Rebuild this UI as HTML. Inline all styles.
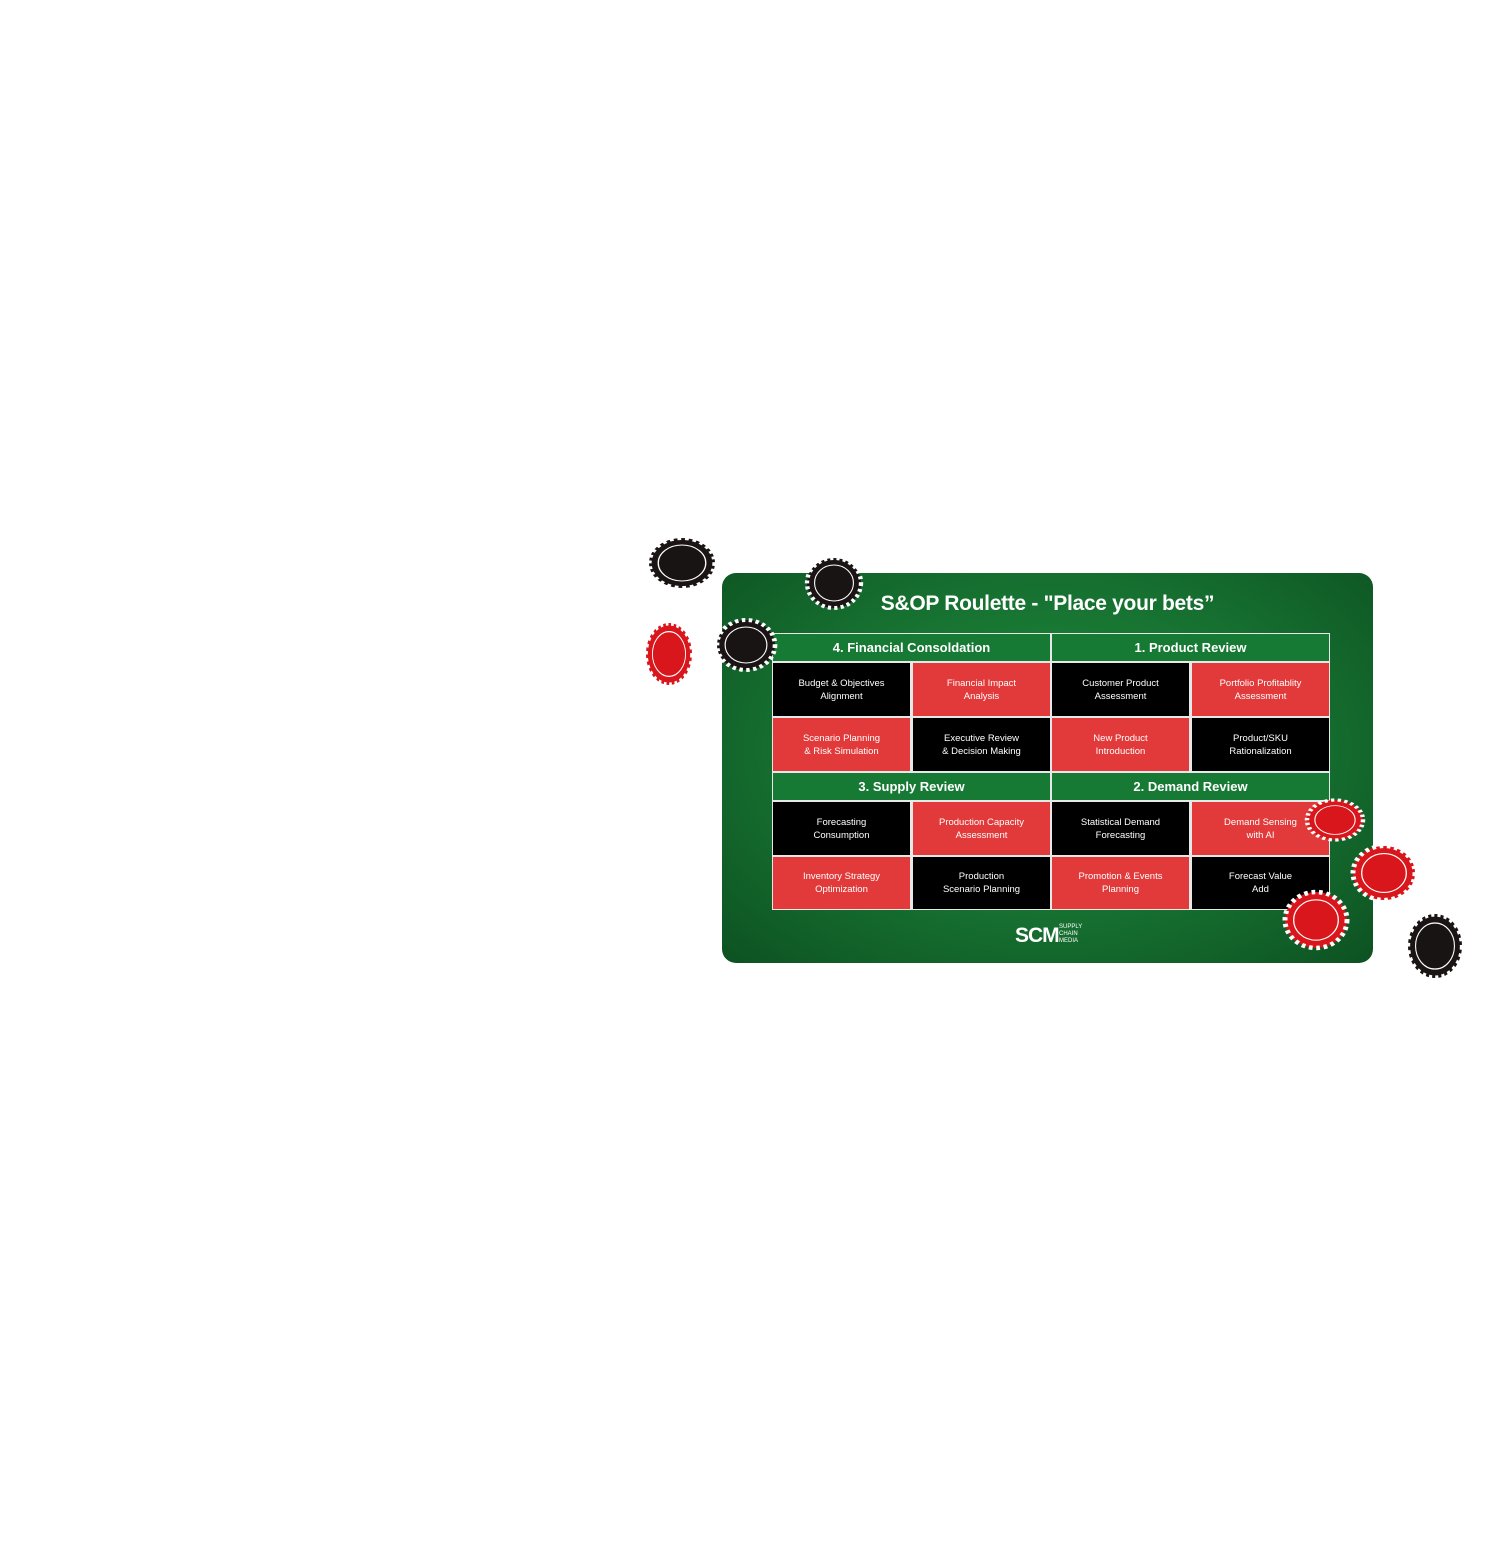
<!DOCTYPE html>
<html><head><style>
body{margin:0;width:1500px;height:1561px;background:#fff;position:relative;overflow:hidden;font-family:"Liberation Sans",sans-serif}
.board{position:absolute;left:722px;top:573px;width:651px;height:390px;border-radius:14px;background:radial-gradient(ellipse at 50% 45%,#1f8a3c 0%,#167030 55%,#0d5222 100%)}
.title{position:absolute;left:722px;top:592px;width:651px;text-align:center;color:#fff;font-weight:bold;font-size:21px;letter-spacing:-0.3px}
.grid{position:absolute;left:772px;top:633px;width:558px;height:277px;background:#e8e8e8}
.c{position:absolute;display:flex;align-items:center;justify-content:center;text-align:center;color:#fff;font-size:9.5px;line-height:13px}
.h{background:#167a35;font-weight:bold;font-size:13px}
.b{background:#000}.r{background:#e23a3a}
.logo{position:absolute;left:1015px;top:924px;color:#fff;font-weight:bold;font-size:21px;letter-spacing:-1px}
.logo small{position:absolute;left:44px;top:0;font-size:6px;line-height:7px;font-weight:normal;letter-spacing:0}
svg{position:absolute;left:0;top:0}
</style></head><body>
<div class="board"></div>
<div class="title">S&amp;OP Roulette - "Place your bets”</div>
<div class="grid">
<div class="c h" style="left:1px;top:1px;width:277px;height:27px">4. Financial Consoldation</div>
<div class="c h" style="left:280px;top:1px;width:277px;height:27px">1. Product Review</div>
<div class="c b" style="left:1px;top:30px;width:137px;height:53px">Budget &amp; Objectives<br>Alignment</div>
<div class="c r" style="left:141px;top:30px;width:137px;height:53px">Financial Impact<br>Analysis</div>
<div class="c b" style="left:280px;top:30px;width:137px;height:53px">Customer Product<br>Assessment</div>
<div class="c r" style="left:420px;top:30px;width:137px;height:53px">Portfolio Profitablity<br>Assessment</div>
<div class="c r" style="left:1px;top:85px;width:137px;height:53px">Scenario Planning<br>&amp; Risk Simulation</div>
<div class="c b" style="left:141px;top:85px;width:137px;height:53px">Executive Review<br>&amp; Decision Making</div>
<div class="c r" style="left:280px;top:85px;width:137px;height:53px">New Product<br>Introduction</div>
<div class="c b" style="left:420px;top:85px;width:137px;height:53px">Product/SKU<br>Rationalization</div>
<div class="c h" style="left:1px;top:140px;width:277px;height:27px">3. Supply Review</div>
<div class="c h" style="left:280px;top:140px;width:277px;height:27px">2. Demand Review</div>
<div class="c b" style="left:1px;top:169px;width:137px;height:53px">Forecasting<br>Consumption</div>
<div class="c r" style="left:141px;top:169px;width:137px;height:53px">Production Capacity<br>Assessment</div>
<div class="c b" style="left:280px;top:169px;width:137px;height:53px">Statistical Demand<br>Forecasting</div>
<div class="c r" style="left:420px;top:169px;width:137px;height:53px">Demand Sensing<br>with AI</div>
<div class="c r" style="left:1px;top:224px;width:137px;height:52px">Inventory Strategy<br>Optimization</div>
<div class="c b" style="left:141px;top:224px;width:137px;height:52px">Production<br>Scenario Planning</div>
<div class="c r" style="left:280px;top:224px;width:137px;height:52px">Promotion &amp; Events<br>Planning</div>
<div class="c b" style="left:420px;top:224px;width:137px;height:52px">Forecast Value<br>Add</div>
</div>
<div class="logo">SCM<small>SUPPLY<br>CHAIN<br>MEDIA</small></div>
<svg width="1500" height="1561">
<defs>
<g id="chip"><ellipse rx="1" ry="1" fill="currentColor"/><ellipse rx="1" ry="1" fill="none" stroke="#fff" stroke-width=".16" stroke-dasharray=".12 .12"/><ellipse rx=".72" ry=".72" fill="none" stroke="#fff" stroke-width=".04"/><ellipse rx=".66" ry=".66" fill="currentColor" opacity=".85"/></g>
</defs>
<g color="#1a1414">
<use href="#chip" transform="translate(682,563) scale(33,25)"/>
<use href="#chip" transform="translate(834,583) scale(27,25)"/>
<use href="#chip" transform="translate(746,645) scale(29,25)"/>
<use href="#chip" transform="translate(1435,946) scale(27,32)"/>
</g>
<g color="#d8161c">
<use href="#chip" transform="translate(669,654) scale(23,31)"/>
<use href="#chip" transform="translate(1335,820) scale(28,20)"/>
<use href="#chip" transform="translate(1384,873) scale(31,27)"/>
<use href="#chip" transform="translate(1316,920) scale(31,28)"/>
</g>
</svg>
</body></html>
